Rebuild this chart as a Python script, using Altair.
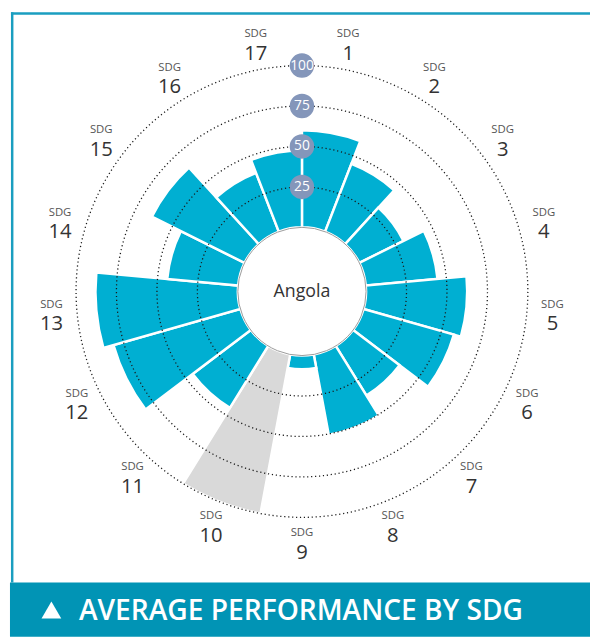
import math
import altair as alt
import pandas as pd

# ---- data ----
sdg_numbers = list(range(1, 18))
scores = [60, 45, 30.5, 44.5, 62.5, 58, 36, 50.5, 8.5, 100, 45, 81.5, 88, 44, 64, 39, 47.5]
status = ["data"] * 9 + ["insufficient"] + ["data"] * 7
ring_values = [25, 50, 75, 100]
country = "Angola"
title_text = "AVERAGE PERFORMANCE BY SDG"

CYAN = "#00AFD2"
GREY = "#D9D9D9"
BADGE = "#8496BA"
BANNER = "#0194B5"
FRAME = "#1A9EC0"
FONT = "Open Sans"

bars = pd.DataFrame({"sdg": sdg_numbers, "score": scores, "status": status})
bars["start"] = bars["sdg"] - 1
bars["end"] = bars["sdg"]
bars["mid"] = bars["sdg"] - 0.5
bars["label"] = bars["sdg"].astype(str)
rings = pd.DataFrame({"ring": ring_values, "ring_label": [str(v) for v in ring_values]})

N = len(sdg_numbers)
W = H = 566
cx, cy = W / 2, H / 2
R0, R100 = 65, 229
PAD_L = 15

theta_scale = alt.Scale(domain=[0, N], range=[0, 2 * math.pi])
radius_scale = alt.Scale(type="linear", domain=[0, 100], range=[R0, R100], zero=False)
badge_y_scale = alt.Scale(type="linear", domain=[0, 100], range=[cy - R0, cy - R100], zero=False)

bar_layer = alt.Chart(bars).mark_arc(stroke="white", strokeWidth=2.5).encode(
    theta=alt.Theta("start:Q", stack=None, scale=theta_scale),
    theta2="end:Q",
    radius=alt.Radius("score:Q", stack=None, scale=radius_scale),
    radius2=alt.datum(0),
    color=alt.Color("status:N", scale=alt.Scale(domain=["data", "insufficient"], range=[CYAN, GREY]), legend=None),
)

ring_layer = alt.Chart(rings).mark_arc(
    fillOpacity=0, stroke="#1a1a1a", strokeWidth=1.3, strokeDash=[1.2, 2.8]
).encode(
    theta=alt.value(0),
    theta2=alt.value(2 * math.pi),
    radius=alt.Radius("ring:Q", stack=None, scale=radius_scale),
    radius2=alt.value(0),
)

center_df = pd.DataFrame({"country": [country]})
center_circle = alt.Chart(center_df).mark_arc(fill="white", stroke="#9b9b9b", strokeWidth=1).encode(
    theta=alt.value(0),
    theta2=alt.value(2 * math.pi),
    radius=alt.value(R0),
    radius2=alt.value(0),
)
center_text = alt.Chart(center_df).mark_text(fontSize=18, color="#333333", font=FONT).encode(
    x=alt.value(cx), y=alt.value(cy + 1), text="country:N"
)

badges = alt.Chart(rings).mark_circle(size=616, color=BADGE, opacity=1).encode(
    x=alt.value(cx),
    y=alt.Y("ring:Q", scale=badge_y_scale, axis=None),
)
badge_text = alt.Chart(rings).mark_text(fontSize=14, color="white", font=FONT, baseline="middle").encode(
    x=alt.value(cx),
    y=alt.Y("ring:Q", scale=badge_y_scale, axis=None),
    text="ring_label:N",
)

sdg_word = alt.Chart(bars).mark_text(radius=255, dy=-10, fontSize=11.5, color="#555555", font=FONT).encode(
    theta=alt.Theta("mid:Q", stack=None, scale=theta_scale),
    text=alt.value("SDG"),
)
sdg_num = alt.Chart(bars).mark_text(radius=255, dy=10, fontSize=20.5, color="#333333", font=FONT).encode(
    theta=alt.Theta("mid:Q", stack=None, scale=theta_scale),
    text="label:N",
)

deco = pd.DataFrame({"t": [title_text]})
frame_top = alt.Chart(deco).mark_rect(color=FRAME).encode(
    x=alt.value(-PAD_L + 3), x2=alt.value(590), y=alt.value(0), y2=alt.value(2.5)
)
frame_left = alt.Chart(deco).mark_rect(color=FRAME).encode(
    x=alt.value(-PAD_L + 3), x2=alt.value(-PAD_L + 5.5), y=alt.value(0), y2=alt.value(578)
)
banner = alt.Chart(deco).mark_rect(color=BANNER).encode(
    x=alt.value(-PAD_L + 2), x2=alt.value(590), y=alt.value(578), y2=alt.value(633)
)
banner_text = alt.Chart(deco).mark_text(
    align="left", baseline="alphabetic", fontSize=28.5, fontWeight=600, color="white", font=FONT
).encode(x=alt.value(80 - 8 - PAD_L), y=alt.value(616), text="t:N")
triangle = alt.Chart(deco).mark_point(shape="triangle-up", filled=True, color="white", size=400, opacity=1).encode(
    x=alt.value(52 - 8 - PAD_L), y=alt.value(606)
)

chart = alt.layer(
    bar_layer, ring_layer, center_circle, badges, badge_text, sdg_word, sdg_num, center_text,
    frame_top, frame_left, banner, banner_text, triangle,
).properties(
    width=W, height=H,
    padding={"left": PAD_L, "top": 0, "right": 590 - W - PAD_L, "bottom": 67},
    autosize=alt.AutoSizeParams(type="none"),
    background="white",
).configure_view(stroke=None)

chart.save("out.html", embed_options={"renderer": "svg", "actions": False})
